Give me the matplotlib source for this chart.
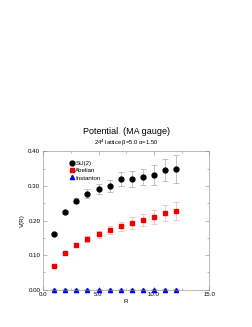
import matplotlib
matplotlib.use('Agg')
import matplotlib.pyplot as plt
from matplotlib.ticker import MultipleLocator
from matplotlib.lines import Line2D

plt.rcParams['font.family'] = ['Liberation Sans', 'DejaVu Sans']

R = [1, 2, 3, 4, 5, 6, 7, 8, 9, 10, 11, 12]
su2 = [0.160, 0.224, 0.258, 0.278, 0.291, 0.300, 0.319, 0.320, 0.326, 0.332, 0.346, 0.350]
su2_err = [0.003, 0.005, 0.006, 0.013, 0.014, 0.016, 0.020, 0.024, 0.024, 0.029, 0.031, 0.040]
abel = [0.070, 0.107, 0.130, 0.146, 0.160, 0.172, 0.183, 0.193, 0.202, 0.211, 0.221, 0.229]
abel_err = [0.002, 0.003, 0.006, 0.008, 0.010, 0.012, 0.014, 0.016, 0.018, 0.020, 0.023, 0.026]
inst = [0.0, 0.0, 0.0, 0.0, 0.0, 0.0, 0.0, 0.0, 0.0, 0.0, 0.0, 0.0]
inst_err = [0.001, 0.001, 0.001, 0.001, 0.001, 0.001, 0.001, 0.001, 0.002, 0.002, 0.002, 0.002]

fig = plt.figure(figsize=(2.53, 3.27), dpi=100)
ax = fig.add_axes([0.170, 0.114, 0.658, 0.423])

# series: marker, face colour, error colour, size, name
series = [
    (su2, su2_err, 'o', 'black', '#aaaaaa', 3.5, 'SU(2)'),
    (abel, abel_err, 's', '#ee0000', '#f4b0b0', 2.8, 'Abelian'),
    (inst, inst_err, '^', '#0000ee', '#a0a0ee', 3.0, 'Instanton'),
]
handles = []
for y, e, m, c, ec, ms, name in series:
    ax.errorbar(R, y, yerr=e, fmt=m, color=c, ecolor=ec, ms=ms, elinewidth=0.5,
                capsize=2.5, capthick=0.5, clip_on=False)
    handles.append(Line2D([], [], ls='none', marker=m, color=c, ms=ms, label=name))

ax.set_xlim(0, 15)
ax.set_ylim(0, 0.4)
ax.xaxis.set_major_locator(MultipleLocator(5))
ax.xaxis.set_minor_locator(MultipleLocator(2.5))
ax.yaxis.set_major_locator(MultipleLocator(0.1))
ax.yaxis.set_minor_locator(MultipleLocator(0.05))
ax.xaxis.set_major_formatter(plt.FuncFormatter(lambda v, p: '%.1f' % v))
ax.yaxis.set_major_formatter(plt.FuncFormatter(lambda v, p: '%.2f' % v))
ax.tick_params(which='both', direction='in', top=True, right=True, labelsize=4.4,
               color='#888888', width=0.4, pad=2)
ax.tick_params(which='major', length=3)
ax.tick_params(which='minor', length=1.5)
for s in ax.spines.values():
    s.set_linewidth(0.4)
    s.set_color('#888888')

ax.set_xlabel('R', fontsize=4.5, labelpad=1)
ax.set_ylabel('V(R)', fontsize=4.5, labelpad=2)

fig.text(0.5, 0.597, 'Potential  (MA gauge)', ha='center', va='center', fontsize=6.5)
fig.text(0.5, 0.562, '24$^4$ lattice \u03b2=5.0 \u03b1=1.50', ha='center', va='center', fontsize=4.2)

ax.legend(handles=handles, loc='upper left', bbox_to_anchor=(0.12, 0.97), frameon=False,
          fontsize=4.4, handletextpad=0.1, labelspacing=0.3, handlelength=1.0)

fig.savefig('out.png', dpi=100)
